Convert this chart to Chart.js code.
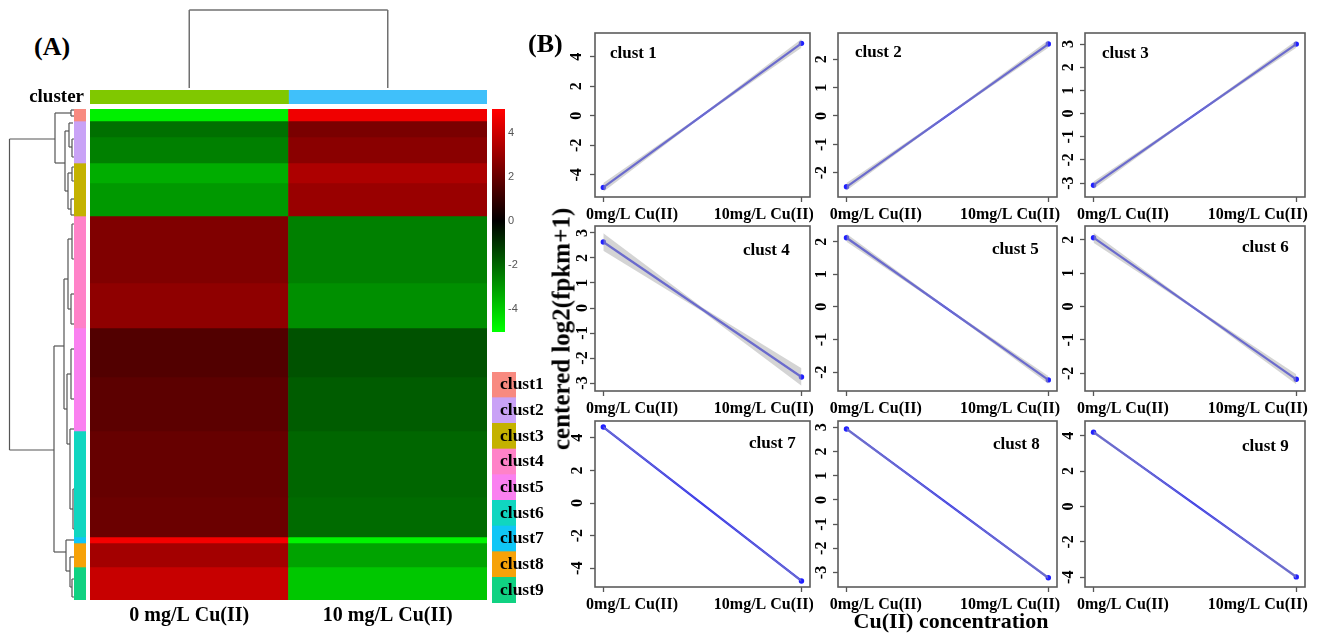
<!DOCTYPE html>
<html><head><meta charset="utf-8">
<script src="https://cdn.jsdelivr.net/npm/chart.js@4.4.1/dist/chart.umd.min.js"></script>
<style>
html,body{margin:0;padding:0;background:#fff;width:1318px;height:633px;overflow:hidden;position:relative;}
canvas{position:absolute;}
.t{position:absolute;font-family:'Liberation Serif','Times New Roman',serif;font-weight:bold;color:#000;white-space:nowrap;line-height:1;}
</style></head><body>
<script>
// ---------------- data ----------------
const conditions = ['0 mg/L Cu(II)', '10 mg/L Cu(II)'];
const panelConditions = ['0mg/L Cu(II)', '10mg/L Cu(II)'];
const clusterNames = ['clust1','clust2','clust3','clust4','clust5','clust6','clust7','clust8','clust9'];
const clusterSizes = [12, 42, 53, 112, 103, 106, 6, 24, 33];
const clusterColors = ['#f88a80','#c9a2f6','#c4b200','#ff82c8','#fa80f0','#10d6c0','#10c6f6','#f6a208','#10d282'];
const bandSizes = [12, 16, 26, 20, 33, 67, 45, 49, 54, 66, 40, 6, 24, 33];
const band0mg  = [-4.7, -2.2, -2.5, -3.4, -3.0, 2.5, 2.8, 1.6, 1.8, 2.0, 2.1, 4.8, 3.2, 3.9];
const band10mg = [4.7, 2.4, 2.7, 3.4, 3.0, -2.5, -2.8, -1.6, -1.8, -2.0, -2.1, -4.8, -3.2, -3.9];
const colorbarTicks = [-4, -2, 0, 2, 4];
const colorbarRange = [-5.05, 5.1];
const groupColors = ['#80c800', '#40c0fa'];
const panelTitles = ['clust 1','clust 2','clust 3','clust 4','clust 5','clust 6','clust 7','clust 8','clust 9'];
const panel0mg  = [-4.85, -2.5, -3.09, 2.64, 2.12, 2.06, 4.66, 2.93, 4.2];
const panel10mg = [4.9, 2.54, 3.0, -2.76, -2.24, -2.18, -4.78, -3.22, -3.98];
const ciEnd = [0.3, 0.13, 0.16, 0.35, 0.12, 0.15, 0.06, 0.06, 0.09];
const ciMid = [0.07, 0.03, 0.04, 0.08, 0.03, 0.04, 0.02, 0.02, 0.02];
const panelYMin = [-5.5, -2.86, -3.6, -3.32, -2.58, -2.53, -5.15, -3.6, -4.55];
const panelYMax = [5.6, 2.93, 3.48, 3.28, 2.48, 2.41, 5.03, 3.26, 4.83];
const panelYTicks = [
  [-4,-2,0,2,4], [-2,-1,0,1,2], [-3,-2,-1,0,1,2,3],
  [-3,-2,-1,0,1,2,3], [-2,-1,0,1,2], [-2,-1,0,1,2],
  [-4,-2,0,2,4], [-3,-2,-1,0,1,2,3], [-4,-2,0,2,4]
];
// dendrogram segments [x1,y1,x2,y2]
const topDendro = [[0.5,0,0.5,1],[0.5,1,1.5,1],[1.5,1,1.5,0]];
// left dendrogram: [height1,row1,height2,row2]
const leftDendro = [
  [64.5,30,64.5,341],[64.5,30,19,30],[64.5,341,20,341],
  [19,4,19,54],[19,4,3,4],[3,1,3,7],[3,1,0,1],[3,7,0,7],
  [19,54,9,54],[9,22,9,82],[9,22,5,22],[5,14,5,38],[5,14,1,14],[5,38,2,38],[2,30,2,48],[2,30,0,30],[2,48,0,48],
  [9,82,6,82],[6,64,6,100],[6,64,2,64],[6,100,3,100],[3,90,3,106],[3,90,0,90],[3,106,0,106],[2,58,2,72],[2,58,0,58],[2,72,0,72],
  [20,237,20,443],[20,237,10,237],[10,170,10,300],[10,170,6,170],
  [6,130,6,200],[6,130,2,130],[6,200,3,200],[2,115,2,150],[2,115,0,115],[2,150,0,150],[3,185,3,215],[3,185,0,185],[3,215,0,215],
  [10,300,7,300],[7,265,7,335],[7,265,3,265],[7,335,4,335],[3,240,3,290],[3,240,0,240],[3,290,0,290],
  [4,320,4,400],[4,320,0,320],[4,400,1,400],[1,380,1,420],[1,380,0,380],[1,420,0,420],
  [20,443,8,443],[8,431,8,462],[8,431,0,431],[8,462,4,462],[4,448,4,478],[4,448,0,448],[4,478,2,478],[2,470,2,488],[2,470,0,470],[2,488,0,488]
];

// ---------------- helpers ----------------
const SERIF = "'Liberation Serif', 'Times New Roman', serif";
function heatColor(v){
  const t = Math.min(1, Math.abs(v) / 5);
  const c = Math.round(255 * t);
  return v >= 0 ? `rgb(${c},0,0)` : `rgb(0,${c},0)`;
}
function mk(left, top, w, h, config){
  const c = document.createElement('canvas');
  c.width = w; c.height = h;
  c.style.left = left + 'px'; c.style.top = top + 'px';
  c.style.width = w + 'px'; c.style.height = h + 'px';
  document.body.appendChild(c);
  const o = config.options || {};
  o.responsive = false; o.animation = false; o.devicePixelRatio = 1; o.events = [];
  o.plugins = Object.assign({legend:{display:false}, tooltip:{enabled:false}}, o.plugins || {});
  o.layout = Object.assign({autoPadding:false, padding:0}, o.layout || {});
  config.options = o;
  return new Chart(c, config);
}
function text(str, left, top, size, extra){
  const d = document.createElement('div');
  d.className = 't';
  d.textContent = str;
  d.style.left = left + 'px'; d.style.top = top + 'px'; d.style.fontSize = size + 'px';
  if (extra) Object.assign(d.style, extra);
  document.body.appendChild(d);
  return d;
}
const noPad = (s) => { s.paddingTop = 0; s.paddingBottom = 0; s.paddingLeft = 0; s.paddingRight = 0; };
const segDatasets = (segs, color, width) => segs.map(s => ({
  data:[{x:s[0], y:s[1]}, {x:s[2], y:s[3]}],
  borderColor: color, borderWidth: width, pointRadius: 0, clip: false, tension: 0
}));

// ---------------- top dendrogram ----------------
mk(90, 5, 397, 85, {
  type:'line',
  data:{datasets: segDatasets(topDendro, '#707070', 1.5)},
  options:{layout:{padding:{top:5,bottom:2,left:0,right:0}},
    scales:{x:{type:'linear',min:0,max:2,display:false}, y:{type:'linear',min:0,max:1,display:false}}}
});

// ---------------- left dendrogram ----------------
mk(0, 105, 74, 499, {
  type:'line',
  data:{datasets: segDatasets(leftDendro, '#555555', 1.2)},
  options:{layout:{padding:{top:4,bottom:4,left:0,right:0}},
    scales:{x:{type:'linear',min:0,max:74,reverse:true,display:false},
            y:{type:'linear',min:0,max:491,reverse:true,display:false}}}
});

// ---------------- column annotation bar ("cluster") ----------------
mk(0, 84, 487, 26, {
  type:'bar',
  data:{labels:['cluster'], datasets: groupColors.map(c => ({data:[1], backgroundColor:c, borderWidth:0, barPercentage:1, categoryPercentage:1}))},
  options:{indexAxis:'y', layout:{padding:{top:6,bottom:6,left:0,right:0}},
    scales:{
      x:{stacked:true, min:0, max:2, display:false},
      y:{stacked:true, afterFit:s=>{s.width=90; noPad(s);}, grid:{display:false, drawTicks:false}, border:{display:false},
         ticks:{padding:6, color:'#000', font:{family:SERIF, weight:'bold', size:19}}}
    }}
});

// ---------------- row cluster side bar ----------------
mk(74, 109, 12, 491, {
  type:'bar',
  data:{labels:['cluster'], datasets: clusterSizes.map((s,i) => ({data:[s], backgroundColor:clusterColors[i], borderWidth:0, barPercentage:1, categoryPercentage:1}))},
  options:{scales:{x:{stacked:true, display:false}, y:{stacked:true, min:0, max:491, reverse:true, display:false}}}
});

// ---------------- heatmap ----------------
mk(90, 109, 397, 526, {
  type:'bar',
  data:{labels:conditions, datasets: bandSizes.map((s,i) => ({
    data:[s, s], backgroundColor:[heatColor(band0mg[i]), heatColor(band10mg[i])],
    borderWidth:0, barPercentage:1, categoryPercentage:1}))},
  options:{scales:{
    x:{stacked:true, afterFit:s=>{s.height=35; noPad(s);}, grid:{display:false}, border:{display:false},
       ticks:{padding:-4, color:'#000', maxRotation:0, font:{family:SERIF, weight:'bold', size:20}}},
    y:{stacked:true, min:0, max:491, reverse:true, display:false}
  }}
});

// ---------------- colour key ----------------
mk(488, 105, 40, 232, {
  type:'bar',
  data:{labels:[''], datasets:[{
    data:[colorbarRange], borderWidth:0, barPercentage:1, categoryPercentage:1,
    backgroundColor:(ctx) => {
      const ch = ctx.chart; if (!ch.chartArea) return '#000';
      const y = ch.scales.y;
      const g = ch.ctx.createLinearGradient(0, y.getPixelForValue(5), 0, y.getPixelForValue(-5));
      g.addColorStop(0, heatColor(5)); g.addColorStop(0.5, heatColor(0)); g.addColorStop(1, heatColor(-5));
      return g;
    }}]},
  options:{layout:{padding:{top:4,bottom:5,left:4,right:0}},
    scales:{
      x:{display:false},
      y:{position:'right', min:colorbarRange[0], max:colorbarRange[1], afterFit:s=>{s.width=23; noPad(s);},
         afterBuildTicks:s=>{s.ticks = colorbarTicks.map(v=>({value:v}));},
         grid:{display:false, drawTicks:false}, border:{display:false},
         ticks:{padding:3, color:'#555', font:{family:"'Liberation Sans', Arial, sans-serif", size:11}}}
    }}
});

// ---------------- cluster legend ----------------
mk(492, 372, 70, 231, {
  type:'bar',
  data:{labels:clusterNames, datasets:[{data:clusterNames.map(()=>1), backgroundColor:clusterColors, borderWidth:0, barPercentage:1, categoryPercentage:1}]},
  options:{indexAxis:'y', layout:{padding:{top:0,bottom:0,left:0,right:46}},
    scales:{
      x:{min:0, max:1, display:false},
      y:{afterFit:s=>{s.width=0; noPad(s);}, grid:{display:false}, border:{display:false},
         ticks:{z:1, mirror:true, padding:8, color:'#000', font:{family:SERIF, weight:'bold', size:17.5}}}
    }}
});

// ---------------- facet panels ----------------
const colL = [595, 838, 1085], colR = [810, 1057, 1305];
const rowT = [33, 226, 421], rowB = [197, 391, 587];
const XL = [0.145, 0.81];
const yLabelPad = [6, 4, 4, 0, 4, 4, 5, 4, 4];
const boxPlugin = {id:'box', afterDatasetsDraw(chart){
  const {ctx, chartArea:a} = chart;
  ctx.save(); ctx.strokeStyle = '#5c5c5c'; ctx.lineWidth = 1.6;
  ctx.strokeRect(a.left, a.top, a.right - a.left, a.bottom - a.top); ctx.restore();
}};
function panel(i){
  const col = i % 3, row = Math.floor(i / 3);
  const L = colL[col], R = colR[col], T = rowT[row], B = rowB[row];
  const padL = 46, padB = 34, p = 3;
  const v0 = panel0mg[i], v1 = panel10mg[i], mid = (v0 + v1) / 2;
  mk(L - padL, T - p, R - L + padL + p, B - T + p + padB, {
    type:'line',
    data:{datasets:[
      {data:[{x:0,y:v0-ciEnd[i]},{x:0.5,y:mid-ciMid[i]},{x:1,y:v1-ciEnd[i]}], borderWidth:0, pointRadius:0, fill:false, tension:0},
      {data:[{x:0,y:v0+ciEnd[i]},{x:0.5,y:mid+ciMid[i]},{x:1,y:v1+ciEnd[i]}], borderWidth:0, pointRadius:0, fill:'-1', backgroundColor:'rgba(170,170,170,0.5)', tension:0},
      {data:[{x:0,y:v0},{x:1,y:v1}], borderColor:'#2d2df0', borderWidth:2.2, pointRadius:2.7, pointBackgroundColor:'#1f1fff', pointBorderWidth:0, tension:0}
    ]},
    options:{layout:{padding:{top:p, right:p, left:0, bottom:0}},
      scales:{
        x:{type:'linear', min:-0.042, max:1.043, afterFit:s=>{s.height=padB; noPad(s);},
           afterBuildTicks:s=>{s.ticks=[0, XL[0], XL[1], 1].map(v=>({value:v}));},
           ticks:{autoSkip:false, maxRotation:0, padding:3, color:'#000', font:{family:SERIF, weight:'bold', size:16},
                  callback:(v)=> v===XL[0] ? panelConditions[0] : (v===XL[1] ? panelConditions[1] : '')},
           grid:{display:true, drawOnChartArea:false, drawTicks:true, tickLength:5, tickWidth:1.3,
                 tickColor:(ctx)=> (ctx.tick && (ctx.tick.value===0 || ctx.tick.value===1)) ? '#555' : 'rgba(0,0,0,0)'},
           border:{display:false}},
        y:{type:'linear', min:panelYMin[i], max:panelYMax[i], afterFit:s=>{s.width=padL; noPad(s);},
           afterBuildTicks:s=>{s.ticks=panelYTicks[i].map(v=>({value:v}));},
           ticks:{autoSkip:false, minRotation:90, maxRotation:90, crossAlign:'center', padding:yLabelPad[i], color:'#000',
                  font:{family:SERIF, weight:'bold', size:16}},
           grid:{display:true, drawOnChartArea:false, drawTicks:true, tickLength:5, tickWidth:1.3, tickColor:'#555'},
           border:{display:false}}
      }},
    plugins:[boxPlugin]
  });
}
for (let i = 0; i < 9; i++) panel(i);

// ---------------- text ----------------
text('(A)', 34, 34, 26);
text('(B)', 528, 31, 26);
const titlePos = [[610,53],[855,52],[1102,53],[743,250],[992,249],[1242,247],[749,443],[993,444],[1242,446]];
panelTitles.forEach((t,i) => text(t, titlePos[i][0], titlePos[i][1] - 9, 17));
text('centered log2(fpkm+1)', 561, 329, 25, {transform:'translate(-50%,-50%) rotate(-90deg)'});
text('Cu(II) concentration', 951, 610, 22, {transform:'translateX(-50%)'});
</script>
</body></html>
